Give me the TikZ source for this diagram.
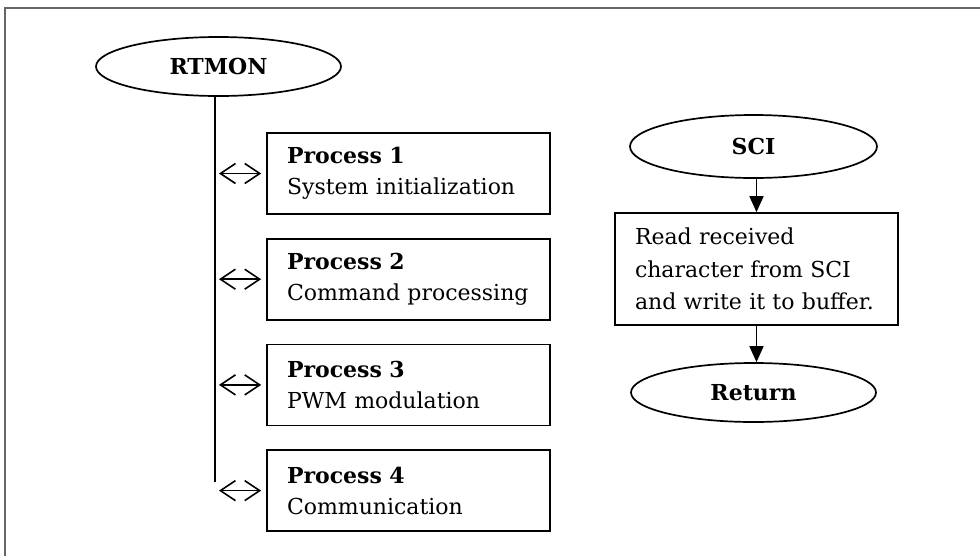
\documentclass[tikz,border=0pt]{standalone}
\usepackage{fontspec}
\setmainfont{DejaVu Serif}
\usetikzlibrary{shapes.geometric,arrows.meta,positioning}

\begin{document}
\begin{tikzpicture}[x=1pt,y=-1pt,line width=1.7pt,
  oval/.style={ellipse,draw,minimum width=245pt,minimum height=59pt,inner sep=0pt,
    font=\fontsize{22}{31}\selectfont\bfseries},
  proc/.style={rectangle,draw,minimum width=283pt,minimum height=81pt,text width=243pt,
    inner xsep=20pt,inner ysep=0pt,align=left,font=\fontsize{22}{31}\selectfont},
  link/.style={{Straight Barb[length=15pt,width=20pt]}-{Straight Barb[length=15pt,width=20pt]},
    line width=1.6pt,shorten <=4pt,shorten >=5pt},
  flow/.style={-{Triangle[length=16pt,width=14pt]}}]
\useasboundingbox (0,0) rectangle (980,555);
\clip (0,0) rectangle (980,555);
\draw[black!60,line width=1.2pt] (5,8) rectangle (1000,600);

\node[oval] (rtmon) at (218.5,66.5) {RTMON};
\node[proc] (p1) at (408.5,173.5) {\textbf{Process 1}\\System initialization};
\node[proc,below=23pt of p1] (p2) {\textbf{Process 2}\\Command processing};
\node[proc,below=23pt of p2] (p3) {\textbf{Process 3}\\PWM modulation};
\node[proc,below=23pt of p3] (p4) {\textbf{Process 4}\\Communication};

\coordinate (bus) at (215,482);
\draw (rtmon.south -| bus) -- (bus);
\foreach \i in {1,...,4}
  \draw[link] (p\i.west -| bus) -- (p\i.west);

\node[oval,minimum width=247pt,minimum height=63pt] (sci) at (753.5,146.5) {SCI};
\node[proc,minimum height=112pt,font=\fontsize{22}{32.5}\selectfont] (read) at (756.5,269)
  {Read received\\character from SCI\\and write it to buffer.};
\node[oval] (ret) at (753.5,392.5) {Return};

\draw[flow] (read.north |- sci.south) -- (read.north);
\draw[flow] (read.south) -- (read.south |- ret.north);
\end{tikzpicture}
\end{document}
